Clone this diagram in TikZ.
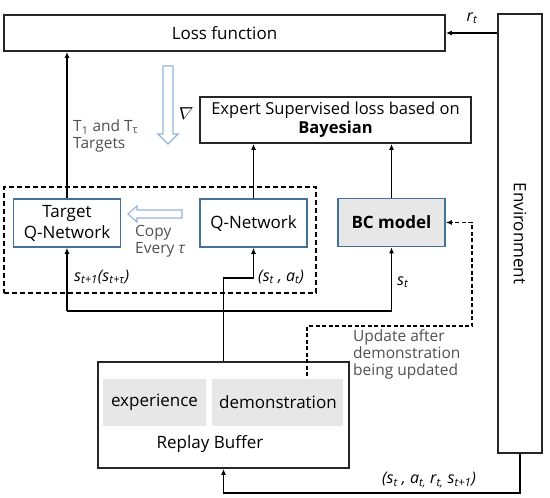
\documentclass[tikz,border=0pt]{standalone}
\usepackage{fontspec}
\setmainfont{Open Sans}
\usetikzlibrary{positioning,arrows.meta,calc}
\definecolor{netblue}{RGB}{65,113,156}
\definecolor{hollowblue}{RGB}{150,180,215}
\definecolor{boxfill}{RGB}{231,231,231}
\definecolor{labelgray}{RGB}{80,80,80}
\newcommand\fs[2]{\fontsize{#1}{#2}\selectfont}
\tikzset{
  box/.style   = {draw=black!85, line width=1.8pt, fill=white, align=center, inner sep=0pt},
  qbox/.style  = {draw=netblue, line width=1.6pt, fill=white, align=center, inner sep=0pt, minimum width=107pt, minimum height=48pt},
  gbox/.style  = {fill=boxfill, inner sep=0pt, minimum height=47pt},
  flow/.style  = {-{Latex[length=6pt,width=5pt]}, line width=1.7pt},
  dflow/.style = {flow, dash pattern=on 4pt off 2.5pt},
  hollow/.style = {draw=hollowblue, line width=1.1pt, fill=white},
  lbl/.style   = {font=\fs{15.5}{17}, text=labelgray, align=left, inner sep=0pt},
  mlbl/.style  = {font=\fs{16}{18}, inner sep=0pt},
}

\begin{document}
\begin{tikzpicture}[x=1pt, y=-1pt, font=\fs{17}{21}]
  \useasboundingbox (0,0) rectangle (550,498);
  % losses and environment
  \node[box, minimum width=441pt, minimum height=36pt] (loss) at (224.5,33) {Loss function};
  \node[box, minimum width=44pt, minimum height=439pt] (env) at (520,233.5) {};
  \node[rotate=-90, font=\fs{17}{20}] (envtxt) at (env.center) {Environment};
  \node[box, minimum width=271pt, minimum height=46pt, font=\fs{16.5}{19}] (expert) at (335.5,120) {Expert Supervised loss based on\\\textbf{Bayesian}};
  % networks
  \node[draw, line width=1.5pt, dash pattern=on 5pt off 3pt, minimum width=312pt, minimum height=106pt] (grp) at (160,240) {};
  \node[qbox] (tq) at (67,223) {Target\\Q-Network};
  \node[qbox] (qn) at (253.5,223) {Q-Network};
  \node[qbox, fill=boxfill, font=\fs{17}{21}\bfseries] (bc) at (391.5,222.5) {BC model};
  % replay buffer
  \node[box, minimum width=251pt, minimum height=106pt] (replay) at (223.5,415) {};
  \node[gbox, minimum width=103pt] (exp) at (154.5,402.5) {experience};
  \node[gbox, minimum width=131pt, right=6pt of exp] (demo) {demonstration};
  \node (rbtxt) at (210,444) {Replay Buffer};
  % hollow arrows
  \draw[hollow] (163,66) -- (173,66) -- (173,134) -- (178,134) -- (168,144) -- (158,134) -- (163,134) -- cycle;
  \draw[hollow] (182,210) -- (137,210) -- (137,206) -- (128,214) -- (137,222) -- (137,218) -- (182,218) -- cycle;
  % connectors
  \draw[flow] (env.west |- loss.east) -- (loss.east);
  \draw[flow] (tq.north) -- (tq.north |- loss.south);
  \draw[flow] (qn.north) -- (qn.north |- expert.south);
  \draw[flow] (bc.north) -- (bc.north |- expert.south);
  \coordinate (bus) at (223.5,311);
  \coordinate (qin) at (223.5,278);
  \draw[line width=1.7pt] (tq.south |- bus) -- (bc.south |- bus);
  \draw[flow] (bus -| tq.south) -- (tq.south);
  \draw[flow] (bus -| bc.south) -- (bc.south);
  \draw[flow] (replay.north) -- (qin) -| (qn.south);
  \coordinate (envout) at (520,493);
  \draw[flow] (env.south) -- (envout) -| (replay.south);
  \coordinate (upd) at (307,376);
  \coordinate (updc) at (472,326);
  \draw[dflow] (upd) |- (updc) |- (bc.east);
  % labels
  \node[lbl, anchor=west] (tgt) at (73,136) {T\textsubscript{1} and T\textsubscript{τ}\\Targets};
  \node[lbl, anchor=west] (copy) at (135,241.5) {Copy\\Every \textit{τ}};
  \node[font=\fs{17}{20}, xslant=0.25, transform shape] (nabla) at (185,114) {$\nabla$};
  \node[lbl, anchor=west] (updtxt) at (353,354) {Update after\\demonstration\\being updated};
  \node[mlbl, anchor=west] (snext) at (74,277) {\textit{s\textsubscript{t+1}(s\textsubscript{t+τ})}};
  \node[mlbl, anchor=west] (sa) at (258,277) {\textit{(s\textsubscript{t} , a\textsubscript{t})}};
  \node[mlbl, anchor=west] (st) at (397,282) {\textit{s\textsubscript{t}}};
  \node[mlbl] (tuple) at (429,480) {\textit{(s\textsubscript{t} , a\textsubscript{t,} r\textsubscript{t,} s\textsubscript{t+1})}};
  \node[mlbl] (rt) at (472,18) {\textit{r\textsubscript{t}}};
\end{tikzpicture}
\end{document}
